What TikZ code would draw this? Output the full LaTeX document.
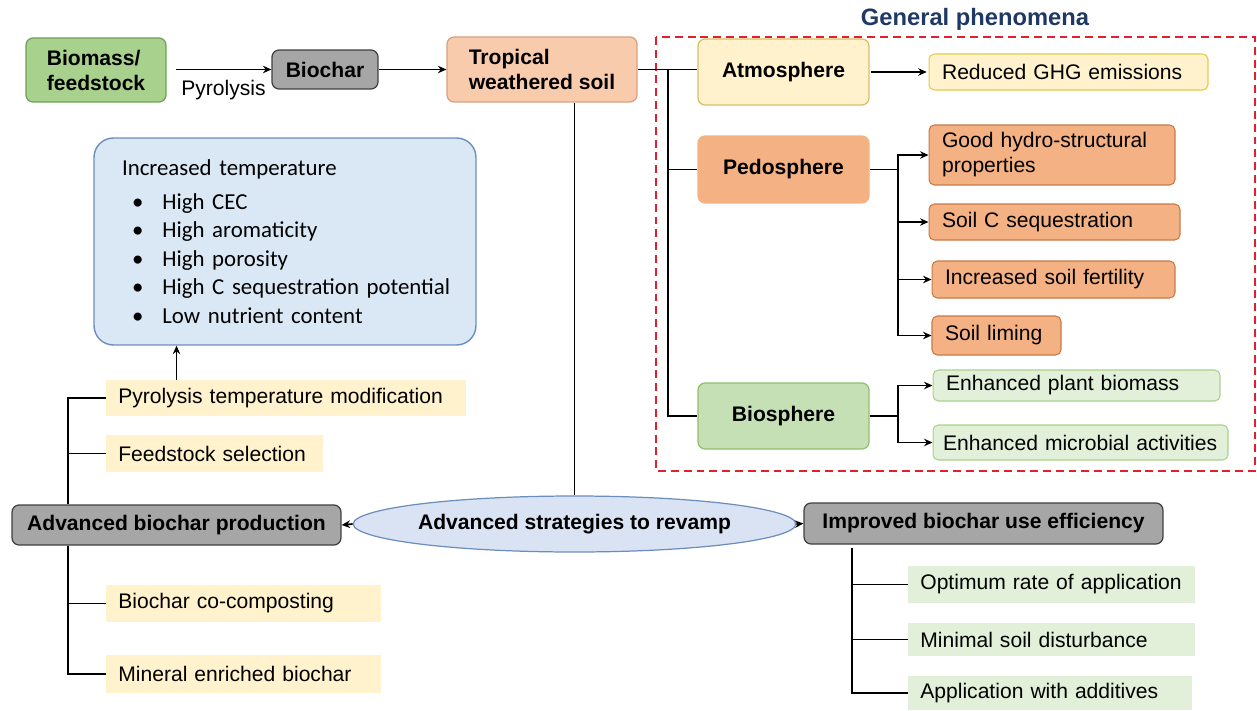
\documentclass[tikz,border=0pt]{standalone}
\usepackage{fontspec}
\setmainfont{Liberation Sans}
\newfontfamily\calibri{Carlito}
\usetikzlibrary{arrows.meta}
\usetikzlibrary{shapes.geometric}
\usepackage{xcolor}
\definecolor{leafgreen}{HTML}{A9D18E}
\definecolor{leafedge}{HTML}{6F9E58}
\definecolor{mossgreen}{HTML}{C5E0B4}
\definecolor{mossedge}{HTML}{8DBF72}
\definecolor{palegreen}{HTML}{E2F0D9}
\definecolor{paleedge}{HTML}{A9D18E}
\definecolor{chargrey}{HTML}{A6A6A6}
\definecolor{charedge}{HTML}{3F3F3F}
\definecolor{peach}{HTML}{F8CBAD}
\definecolor{peachedge}{HTML}{D9A07C}
\definecolor{clay}{HTML}{F4B183}
\definecolor{clayedge}{HTML}{C97846}
\definecolor{cream}{HTML}{FFF2CC}
\definecolor{creamedge}{HTML}{D9BE5C}
\definecolor{skyfill}{HTML}{DAE7F4}
\definecolor{skyedge}{HTML}{6C8EBF}
\definecolor{ovalfill}{HTML}{DAE3F3}
\definecolor{phenred}{HTML}{E0202A}
\definecolor{navy}{HTML}{1F3864}
\newcommand{\boxfont}{\fontsize{12}{14.2}\selectfont}
\newcommand{\tempitem}{\hspace*{0.3cm}\textbullet\hspace{0.38cm}}

\begin{document}
\begin{tikzpicture}[
  x={(0.02cm,0)}, y={(0,-0.02cm)},
  hub/.style={rectangle, rounded corners=4pt, line width=0.7pt,
    align=center, font=\boxfont\bfseries, text=black, inner sep=2pt},
  leaf/.style={rectangle, rounded corners=3pt, line width=0.6pt, inner xsep=0.26cm,
    inner ysep=2pt, align=left, font=\boxfont, text=black},
  plain/.style={rectangle, anchor=west, inner xsep=0.24cm, inner ysep=2pt,
    align=left, font=\boxfont, text=black},
  arrow/.style={-{Stealth[length=1.7mm, width=1.5mm]}, line width=1pt, draw=black},
  link/.style={line width=1pt, draw=black},
  phenbox/.style={draw=phenred, line width=1.1pt, dash pattern=on 4.5pt off 2.8pt},
]
\useasboundingbox (0,0) rectangle (1257,710);

% === Production chain ===
\node[hub, fill=leafgreen, draw=leafedge, minimum width=2.8cm, minimum height=1.28cm, align=left]
  (bio) at (96,70) {Biomass/\\feedstock};
\node[hub, fill=chargrey, draw=charedge, minimum width=2.12cm, minimum height=0.78cm]
  (biochar) at (325,69.5) {Biochar};
\node[hub, fill=peach, draw=peachedge, minimum width=3.8cm, minimum height=1.3cm, align=left]
  (soil) at (542,69.5) {Tropical\\weathered soil};

% === General phenomena ===
\draw[phenbox] (656,37) rectangle (1255,471);
\node[font=\fontsize{13.5}{16}\selectfont\bfseries, text=navy] (phen) at (975,19) {General phenomena};

\node[hub, fill=cream, draw=creamedge, minimum width=3.42cm, minimum height=1.32cm]
  (atmos) at (783.5,72) {Atmosphere};
\node[leaf, fill=cream, draw=creamedge!80!yellow, minimum width=5.58cm, minimum height=0.72cm, text width=5.06cm]
  (ghg) at (1068.5,72) {Reduced GHG emissions};

\node[hub, fill=clay, draw=clay, minimum width=3.42cm, minimum height=1.34cm]
  (pedo) at (783.5,169.5) {Pedosphere};
\node[leaf, fill=clay, draw=clayedge, minimum width=4.92cm, minimum height=1.2cm, text width=4.4cm]
  (hydro) at (1052,155) {Good hydro-structural\\properties};
\node[leaf, fill=clay, draw=clayedge, minimum width=5.02cm, minimum height=0.72cm, text width=4.5cm]
  (seq) at (1054.5,222) {Soil C sequestration};
\node[leaf, fill=clay, draw=clayedge, minimum width=4.86cm, minimum height=0.74cm, text width=4.34cm]
  (fert) at (1053.5,279.5) {Increased soil fertility};
\node[leaf, fill=clay, draw=clayedge, minimum width=2.58cm, minimum height=0.78cm, text width=2.06cm]
  (lime) at (996.5,335.5) {Soil liming};

\node[hub, fill=mossgreen, draw=mossedge, minimum width=3.42cm, minimum height=1.32cm]
  (biosph) at (783.5,416) {Biosphere};
\node[leaf, fill=palegreen, draw=paleedge, minimum width=5.74cm, minimum height=0.62cm, text width=5.22cm]
  (plant) at (1076.5,385.5) {Enhanced plant biomass};
\node[leaf, fill=palegreen, draw=paleedge, minimum width=5.9cm, minimum height=0.7cm, inner xsep=0.2cm, text width=5.5cm]
  (microb) at (1080.5,442.5) {Enhanced microbial activities};

% === Temperature effects ===
\node[rectangle, rounded corners=11pt, fill=skyfill, draw=skyedge, line width=0.8pt,
  minimum width=7.64cm, minimum height=4.14cm, text width=6.72cm, inner xsep=0.46cm,
  align=left, font=\calibri\fontsize{13}{16.3}\selectfont]
  (tempbox) at (285,241.5) {\hspace*{0.1cm}Increased temperature\\[3pt]
  \tempitem High CEC\\
  \tempitem High aromaticity\\
  \tempitem High porosity\\
  \tempitem High C sequestration potential\\
  \tempitem Low nutrient content};

% === Advanced strategies ===
\node[ellipse, fill=ovalfill, draw=skyedge, line width=0.7pt, inner sep=0pt,
  minimum width=7.1cm, minimum height=1.12cm, font=\boxfont\bfseries]
  (revamp) at (574.5,524) {Advanced strategies to revamp};
\node[hub, fill=chargrey, draw=charedge, minimum width=6.58cm, minimum height=0.8cm]
  (advprod) at (176.5,525) {Advanced biochar production};
\node[hub, fill=chargrey, draw=charedge, minimum width=7.18cm, minimum height=0.82cm]
  (effic) at (983.5,523.5) {Improved biochar use efficiency};

\node[plain, fill=cream, minimum width=7.2cm, minimum height=0.72cm, text width=6.72cm] (pyromod) at (106,398) {Pyrolysis temperature modification};
\node[plain, fill=cream, minimum width=4.34cm, minimum height=0.74cm, text width=3.86cm] (feedsel) at (106,453.5) {Feedstock selection};
\node[plain, fill=cream, minimum width=5.5cm, minimum height=0.74cm, text width=5.02cm] (cocomp) at (106,603.5) {Biochar co-composting};
\node[plain, fill=cream, minimum width=5.5cm, minimum height=0.76cm, text width=5.02cm] (mineral) at (106,674) {Mineral enriched biochar};

\node[plain, fill=palegreen, minimum width=5.74cm, minimum height=0.74cm, text width=5.26cm] (optrate) at (908,584.5) {Optimum rate of application};
\node[plain, fill=palegreen, minimum width=5.74cm, minimum height=0.66cm, text width=5.26cm] (mindist) at (908,639.5) {Minimal soil disturbance};
\node[plain, fill=palegreen, minimum width=5.68cm, minimum height=0.68cm, text width=5.2cm] (additive) at (908,693) {Application with additives};

% === Fork points ===
\coordinate (trunk) at (668,0);
\coordinate (pfork) at (898,0);
\coordinate (lfork) at (68,0);
\coordinate (rfork) at (852,0);

% === Arrows ===
\draw[arrow] ([xshift=0.18cm]bio.east |- biochar.west) -- node[below=2pt, font=\boxfont] (pyro) {Pyrolysis} (biochar.west);
\draw[arrow] (biochar) -- (soil);
\draw[link] (soil.east) -- (soil.east -| atmos.west);
\draw[link] (soil.east -| trunk) |- (pedo.west);
\draw[link] (soil.east -| trunk) |- (biosph.west);
\draw[arrow] ([xshift=1pt]atmos.east) -- ([xshift=-1pt]ghg.west);

\draw[link] (pedo.east) -- (pedo.east -| pfork);
\foreach \t in {hydro, seq, fert, lime}
  \draw[arrow] (pedo.east -| pfork) |- (\t.west);
\draw[link] (biosph.east) -- (biosph.east -| pfork);
\foreach \t in {plant, microb}
  \draw[arrow] (biosph.east -| pfork) |- (\t.west);

\draw[link] (revamp.north |- soil.south) -- (revamp.north);
\draw[arrow] (revamp.west) -- (advprod.east);
\draw[arrow] (revamp.east) -- (effic.west);

\draw[arrow] (advprod.center |- pyromod.north) -- (advprod.center |- tempbox.south);
\foreach \t in {pyromod, feedsel}
  \draw[link] (advprod.north -| lfork) |- (\t.west);
\foreach \t in {cocomp, mineral}
  \draw[link] (advprod.south -| lfork) |- (\t.west);
\foreach \t in {optrate, mindist, additive}
  \draw[link] ([yshift=-2pt]effic.south -| rfork) |- (\t.west);

\end{tikzpicture}
\end{document}
